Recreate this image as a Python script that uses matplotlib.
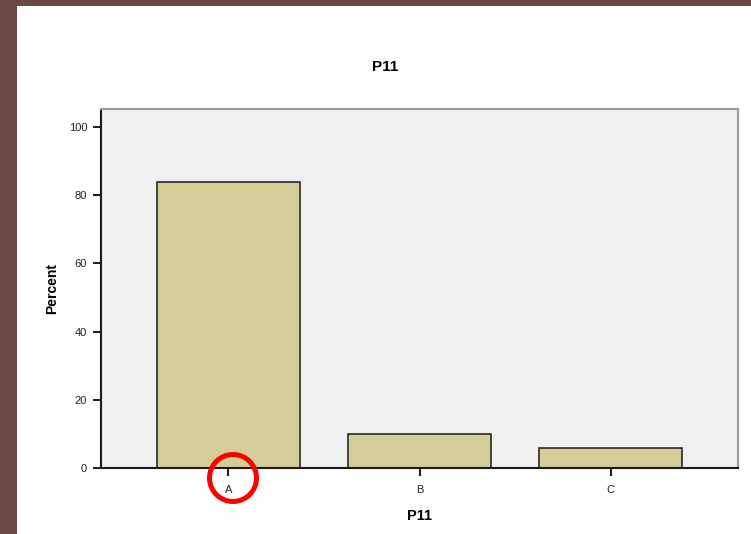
import matplotlib
matplotlib.use("Agg")
import matplotlib.pyplot as plt
from matplotlib.patches import Rectangle, Ellipse

# data
categories = ["A", "B", "C"]
percent = [84, 10, 6]
y_ticks = [0, 20, 40, 60, 80, 100]

plt.rcParams["font.family"] = ["Liberation Sans", "DejaVu Sans"]

W, H = 751, 534
fig = plt.figure(figsize=(W / 100, H / 100), dpi=100)
fig.patch.set_facecolor("white")

# brown screenshot border, left and top
fig.patches.append(Rectangle((0, 0), 17 / W, 1, transform=fig.transFigure,
                             facecolor="#6a4846", edgecolor="none", zorder=0))
fig.patches.append(Rectangle((0, 1 - 6 / H), 1, 6 / H, transform=fig.transFigure,
                             facecolor="#6a4846", edgecolor="none", zorder=0))

ax = fig.add_axes([101 / W, 66 / H, 637 / W, 359 / H])
ax.set_facecolor("#f0f0f0")

x = list(range(len(categories)))
ax.bar(x, percent, width=0.75, color="#d3ce98", edgecolor="#1a1a1a", linewidth=1.1)

ax.set_xlim(-0.667, 2.667)
ax.set_ylim(0, 105.3)
ax.set_xticks(x)
ax.set_xticklabels(categories, fontsize=8, color="#222222")
ax.set_yticks(y_ticks)
ax.set_yticklabels([str(t) for t in y_ticks], fontsize=8, color="#222222")
ax.tick_params(axis="both", direction="out", length=6, width=1.5, color="#222222", pad=4)
ax.tick_params(axis="x", pad=6)

for s in ["left", "bottom"]:
    ax.spines[s].set_color("#1a1a1a")
    ax.spines[s].set_linewidth(1.5)
for s in ["top", "right"]:
    ax.spines[s].set_color("#9a9a9a")
    ax.spines[s].set_linewidth(1.5)

ax.set_xlabel("P11", fontsize=10.5, fontweight="bold", labelpad=10)
ax.set_ylabel("Percent", fontsize=10, fontweight="bold", labelpad=7)

fig.text(385 / W, 1 - 67 / H, "P11", fontsize=11, fontweight="bold",
         ha="center", va="center")

# red circle drawn around the "A" label
fig.patches.append(Ellipse((233 / W, 1 - 478 / H), 47 / W, 47 / H,
                           transform=fig.transFigure, facecolor="none",
                           edgecolor="#ff0000", linewidth=3.6, zorder=10))

fig.savefig("out.png", dpi=100)
